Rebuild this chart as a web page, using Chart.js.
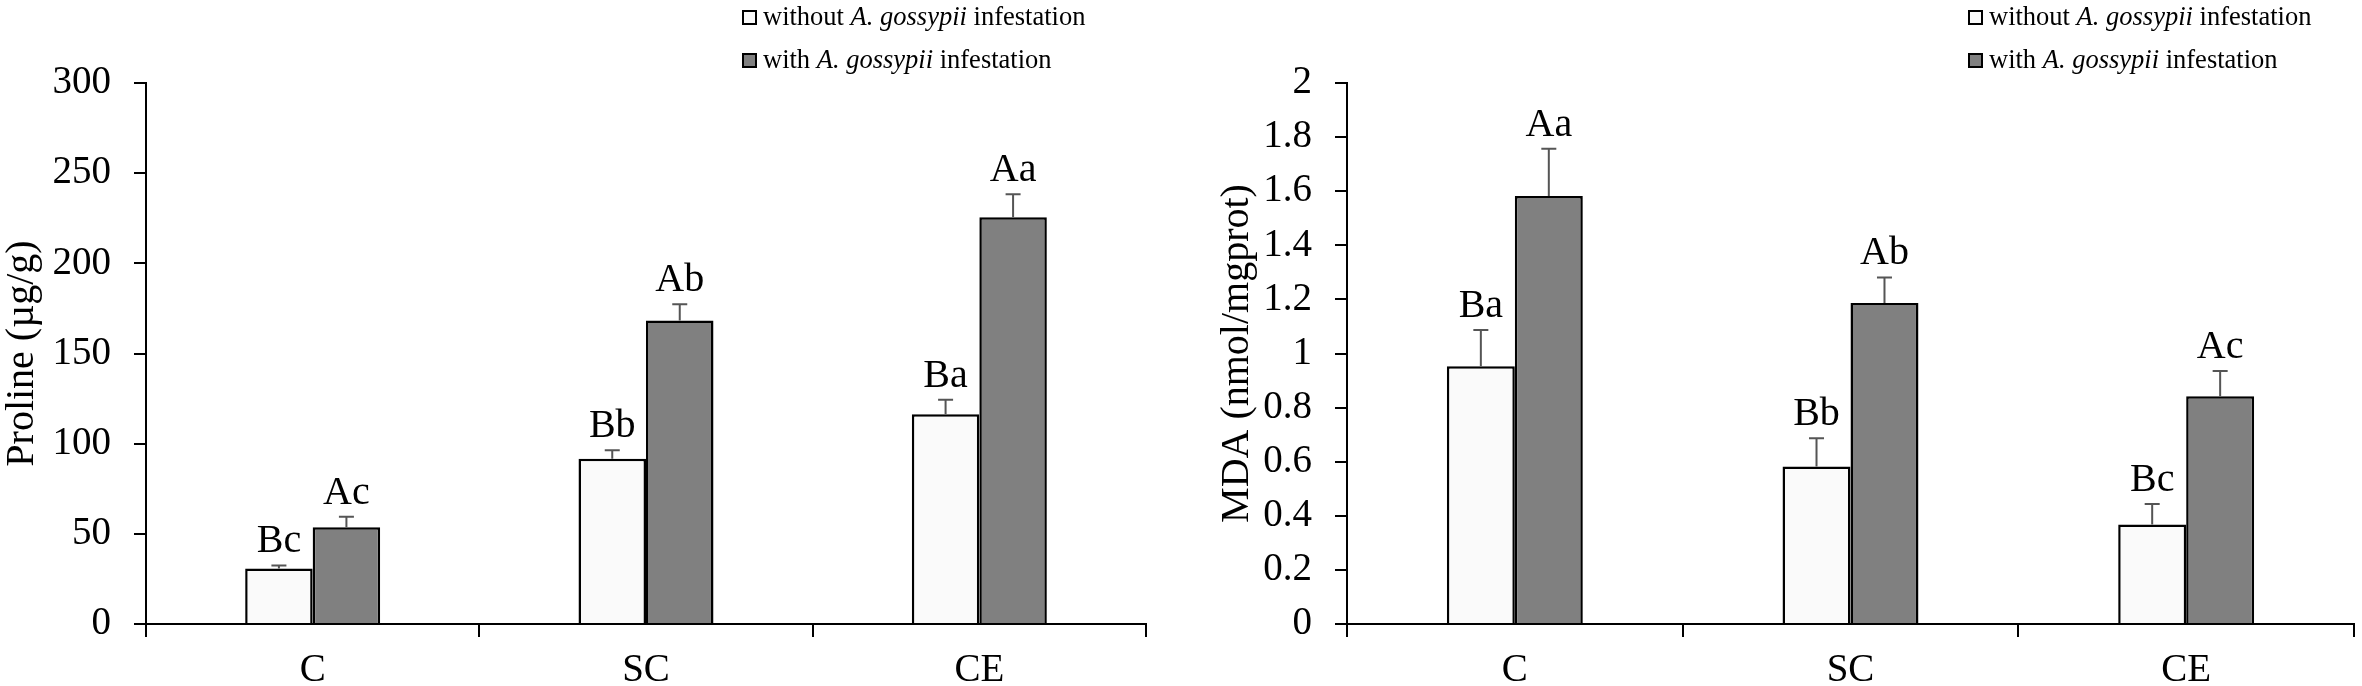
<!DOCTYPE html>
<html>
<head>
<meta charset="utf-8">
<script src="https://cdn.jsdelivr.net/npm/chart.js@4.4.0/dist/chart.umd.min.js"></script>
<style>
  body { margin: 0; background: #fff; width: 2362px; height: 686px; overflow: hidden; position: relative; font-family: 'Liberation Serif', serif; }
  .box { position: absolute; top: 0; height: 686px; }
  .legend { position: absolute; font-size: 26.5px; color: #000; line-height: 43px; white-space: nowrap; }
  .legend .sw { display: inline-block; width: 11px; height: 11px; border: 2px solid #000; margin-right: 6px; vertical-align: baseline; }
</style>
</head>
<body>
<div class="box" style="left:0;width:1165px"><canvas id="proline"></canvas></div>
<div class="box" style="left:1170px;width:1192px"><canvas id="mda"></canvas></div>
<div class="legend" id="legProline" style="left:742px;top:-5px"></div>
<div class="legend" id="legMda" style="left:1968px;top:-5px"></div>

<script>
// categories and legend text
const categories = ['C', 'SC', 'CE'];
const legendPrefix = ['without ', 'with '];
const species = 'A. gossypii';
const legendSuffix = ' infestation';

// proline (µg/g)
const prolineWithout = [30.8, 91.6, 116.3];
const prolineWith = [53.7, 168.3, 225.6];
const prolineErrWithout = [1.7, 4.8, 8.1];
const prolineErrWith = [5.8, 9.0, 12.7];
const prolineLettersWithout = ['Bc', 'Bb', 'Ba'];
const prolineLettersWith = ['Ac', 'Ab', 'Aa'];
const prolineTicks = [0, 50, 100, 150, 200, 250, 300];
const prolineTickLabels = ['0', '50', '100', '150', '200', '250', '300'];

// MDA (nmol/mgprot)
const mdaWithout = [0.953, 0.582, 0.368];
const mdaWith = [1.582, 1.187, 0.842];
const mdaErrWithout = [0.134, 0.105, 0.076];
const mdaErrWith = [0.175, 0.094, 0.093];
const mdaLettersWithout = ['Ba', 'Bb', 'Bc'];
const mdaLettersWith = ['Aa', 'Ab', 'Ac'];
const mdaTicks = [0, 0.2, 0.4, 0.6, 0.8, 1, 1.2, 1.4, 1.6, 1.8, 2];
const mdaTickLabels = ['0', '0.2', '0.4', '0.6', '0.8', '1', '1.2', '1.4', '1.6', '1.8', '2'];

const FONT = 'Liberation Serif';
const barFills = ['#fafafa', '#808080'];

// error bar (upper only) + significance letters
const errorBars = {
  id: 'errorBars',
  afterDatasetsDraw(chart) {
    const ctx = chart.ctx;
    const yScale = chart.scales.y;
    chart.data.datasets.forEach((ds, di) => {
      const meta = chart.getDatasetMeta(di);
      meta.data.forEach((bar, i) => {
        const yTop = yScale.getPixelForValue(ds.data[i] + ds.errors[i]);
        ctx.save();
        ctx.strokeStyle = '#555';
        ctx.lineWidth = 2;
        ctx.beginPath();
        ctx.moveTo(bar.x, bar.y);
        ctx.lineTo(bar.x, yTop);
        ctx.moveTo(bar.x - 7.5, yTop);
        ctx.lineTo(bar.x + 7.5, yTop);
        ctx.stroke();
        ctx.fillStyle = '#000';
        ctx.font = '40px "' + FONT + '"';
        ctx.textAlign = 'center';
        ctx.textBaseline = 'alphabetic';
        ctx.fillText(ds.letters[i], bar.x, yTop - 13);
        ctx.restore();
      });
    });
  }
};

function makeChart(id, opts) {
  const axisFont = { family: FONT, size: 39 };
  return new Chart(document.getElementById(id), {
    type: 'bar',
    data: {
      labels: categories,
      datasets: [
        {
          label: legendPrefix[0] + species + legendSuffix,
          data: opts.without,
          errors: opts.errWithout,
          letters: opts.lettersWithout,
          backgroundColor: barFills[0],
          borderColor: '#000',
          borderWidth: 2.5
        },
        {
          label: legendPrefix[1] + species + legendSuffix,
          data: opts.with,
          errors: opts.errWith,
          letters: opts.lettersWith,
          backgroundColor: barFills[1],
          borderColor: '#000',
          borderWidth: 2.5
        }
      ]
    },
    options: {
      responsive: true,
      maintainAspectRatio: false,
      animation: false,
      devicePixelRatio: 1,
      categoryPercentage: 0.405,
      barPercentage: 1.0,
      layout: { padding: { top: 83, right: opts.padRight, left: 0, bottom: 0 } },
      plugins: { legend: { display: false }, tooltip: { enabled: false } },
      scales: {
        x: {
          grid: { display: true, drawOnChartArea: false, drawTicks: true, tickLength: 13, color: '#000', lineWidth: 2, offset: true },
          border: { display: true, color: '#000', width: 2 },
          ticks: { font: axisFont, color: '#000', padding: 10 },
          afterFit(s) { s.height = 62; }
        },
        y: {
          min: 0,
          max: opts.ticks[opts.ticks.length - 1],
          grid: { drawOnChartArea: false, drawTicks: true, tickLength: 12, color: '#000', lineWidth: 2 },
          border: { display: true, color: '#000', width: 2 },
          afterBuildTicks(s) { s.ticks = opts.ticks.map(v => ({ value: v })); },
          ticks: {
            font: axisFont,
            color: '#000',
            padding: 23,
            callback: (v, i) => opts.tickLabels[i]
          },
          title: {
            display: true,
            text: opts.title,
            color: '#000',
            font: { family: FONT, size: 40, lineHeight: 1.1 },
            padding: { top: opts.titlePad, bottom: 0 }
          },
          afterFit(s) { s.width = opts.axisX; }
        }
      }
    },
    plugins: [errorBars]
  });
}

function buildLegend(el) {
  el.innerHTML = legendPrefix.map((p, i) =>
    '<div><span class="sw" style="background:' + barFills[i] + '"></span>' + p + '<i>' + species + '</i>' + legendSuffix + '</div>'
  ).join('');
}

makeChart('proline', {
  without: prolineWithout, with: prolineWith,
  errWithout: prolineErrWithout, errWith: prolineErrWith,
  lettersWithout: prolineLettersWithout, lettersWith: prolineLettersWith,
  ticks: prolineTicks, tickLabels: prolineTickLabels,
  title: 'Proline (µg/g)', titlePad: 0, axisX: 146, padRight: 19
});

makeChart('mda', {
  without: mdaWithout, with: mdaWith,
  errWithout: mdaErrWithout, errWith: mdaErrWith,
  lettersWithout: mdaLettersWithout, lettersWith: mdaLettersWith,
  ticks: mdaTicks, tickLabels: mdaTickLabels,
  title: 'MDA (nmol/mgprot)', titlePad: 45, axisX: 177, padRight: 8
});

buildLegend(document.getElementById('legProline'));
buildLegend(document.getElementById('legMda'));
</script>
</body>
</html>
